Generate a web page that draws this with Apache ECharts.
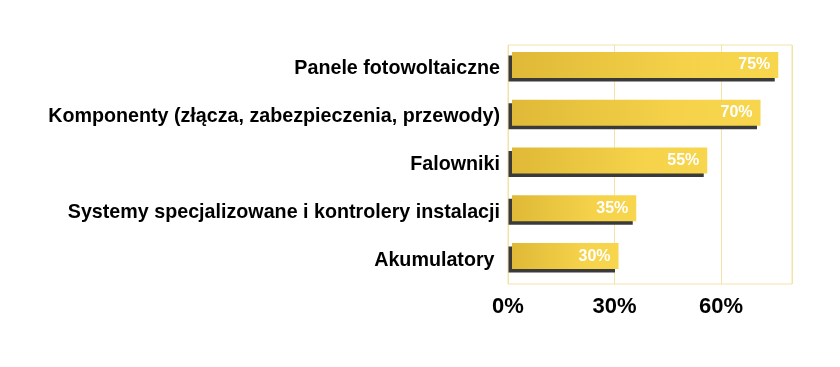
<!DOCTYPE html>
<html>
<head>
<meta charset="utf-8">
<script src="https://cdn.jsdelivr.net/npm/echarts@6/dist/echarts.min.js"></script>
<style>html,body{margin:0;padding:0;background:#fff;}#c{width:840px;height:367px;}</style>
</head>
<body>
<div id="c"></div>
<script>
const categories = ["Panele fotowoltaiczne", "Komponenty (złącza, zabezpieczenia, przewody)", "Falowniki", "Systemy specjalizowane i kontrolery instalacji", "Akumulatory "];
const values = [75, 70, 55, 35, 30];
const xTicks = [0, 30, 60];

const chart = echarts.init(document.getElementById('c'), null, {renderer: 'canvas'});
const gold = new echarts.graphic.LinearGradient(0, 0, 1, 0, [
  {offset: 0, color: '#DFB937'},
  {offset: 0.65, color: '#F5D24A'},
  {offset: 1, color: '#F7D64E'}
]);
const font = 'Liberation Sans, Arial, sans-serif';
chart.setOption({
  backgroundColor: '#fff',
  animation: false,
  grid: [
    {left: 508, right: 48, top: 45, bottom: 83, show: true, borderColor: '#F3E3A6', borderWidth: 1},
    {left: 512, right: 44, top: 41, bottom: 87}
  ],
  xAxis: [{
    gridIndex: 0, type: 'value', min: 0, max: 80, interval: 30,
    axisLine: {show: false}, axisTick: {show: false},
    splitLine: {lineStyle: {color: '#F3E3A6', width: 1}},
    axisLabel: {
      showMaxLabel: false, margin: 12,
      formatter: v => xTicks.includes(v) ? v + '%' : '',
      fontFamily: font, fontWeight: 'bold', fontSize: 22, color: '#000'
    }
  }, {
    gridIndex: 1, type: 'value', min: 0, max: 80, show: false
  }],
  yAxis: [{
    gridIndex: 0, type: 'category', data: categories, inverse: true,
    axisLine: {show: false}, axisTick: {show: false},
    axisLabel: {margin: 8, fontFamily: font, fontWeight: 'bold', fontSize: 19.7, color: '#000'}
  }, {
    gridIndex: 1, type: 'category', data: categories, inverse: true, show: false
  }],
  series: [{
    type: 'bar', xAxisIndex: 1, yAxisIndex: 1, data: values, barWidth: 26,
    itemStyle: {
      color: gold,
      shadowColor: '#3a3a3a', shadowOffsetX: -3.5, shadowOffsetY: 3.5, shadowBlur: 0
    },
    label: {
      show: true, position: 'insideRight', distance: 8, formatter: '{c}%',
      fontFamily: font, fontWeight: 'bold', fontSize: 16, color: '#fff'
    }
  }]
});
</script>
</body>
</html>
